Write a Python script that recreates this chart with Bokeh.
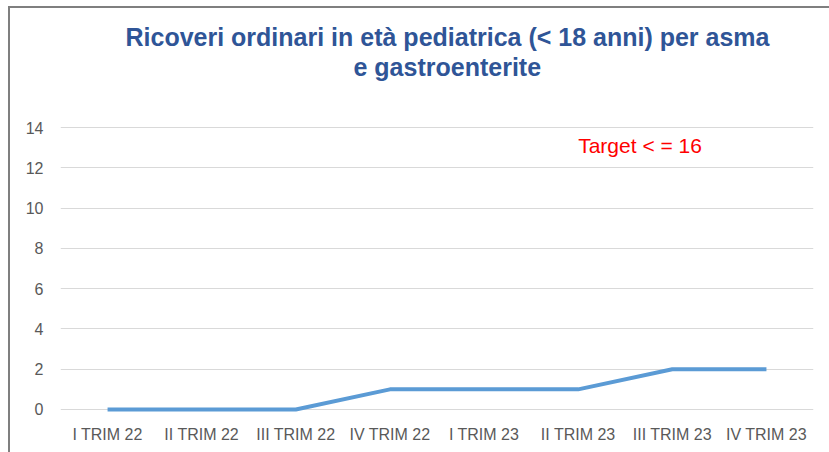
from bokeh.plotting import figure
from bokeh.models import FactorRange, Range1d, Label, FixedTicker, Title
from bokeh.embed import file_html
from bokeh.resources import INLINE

categories = ["I TRIM 22", "II TRIM 22", "III TRIM 22", "IV TRIM 22",
              "I TRIM 23", "II TRIM 23", "III TRIM 23", "IV TRIM 23"]
values = [0, 0, 0, 1, 1, 1, 2, 2]
y_ticks = [0, 2, 4, 6, 8, 10, 12, 14]
title_lines = ["Ricoveri ordinari in età pediatrica (< 18 anni) per asma",
               "e gastroenterite"]
target_text = "Target < = 16"

W, H = 821, 446
p = figure(width=W, height=H, output_backend="svg", toolbar_location=None,
           x_range=FactorRange(factors=categories, range_padding=0),
           y_range=Range1d(-0.2, 14.2),
           min_border_left=50, min_border_right=18,
           min_border_top=115, min_border_bottom=41)
p.styles = {"border-top": "2px solid #7f7f7f", "border-left": "2px solid #7f7f7f",
            "box-sizing": "border-box", "margin-left": "8px", "margin-top": "6px"}
p.outline_line_color = None
p.background_fill_color = "white"
p.border_fill_color = "white"

title_style = dict(align="left", text_font="Liberation Sans", text_font_style="bold",
                   text_font_size="25px", text_color="#2F5597")
# spacer between frame and title (titles stack outward from the frame)
p.add_layout(Title(text=" ", standoff=40, text_font_size="1px"), "above")
p.add_layout(Title(text=title_lines[1], offset=293, standoff=0, **title_style), "above")
p.add_layout(Title(text=title_lines[0], offset=65, standoff=0, **title_style), "above")

p.line(x=categories, y=values, line_color="#5B9BD5", line_width=4)

p.xgrid.grid_line_color = None
p.ygrid.grid_line_color = "#d9d9d9"
p.ygrid.grid_line_width = 1
p.yaxis.ticker = FixedTicker(ticks=y_ticks)

for ax in (p.xaxis, p.yaxis):
    ax.axis_line_color = None
    ax.major_tick_line_color = None
    ax.minor_tick_line_color = None
    ax.major_tick_out = 0
    ax.major_tick_in = 0
    ax.major_label_text_font = "Liberation Sans"
    ax.major_label_text_font_size = "16px"
    ax.major_label_text_color = "#595959"
p.xaxis.major_label_standoff = 12
p.yaxis.major_label_standoff = 17

p.add_layout(Label(x=5.50, y=13.1, text=target_text, text_align="left",
                   text_baseline="alphabetic", text_font="Liberation Sans",
                   text_font_size="21px", text_color="#FF0000"))

open("out.html", "w").write(file_html(p, INLINE))
